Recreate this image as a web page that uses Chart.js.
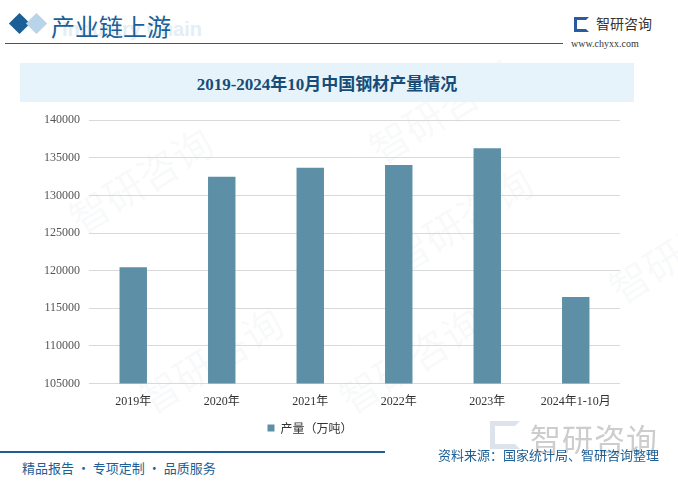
<!DOCTYPE html>
<html>
<head>
<meta charset="utf-8">
<script src="https://cdn.jsdelivr.net/npm/chart.js@4/dist/chart.umd.min.js"></script>
<style>
  body { margin: 0; background: #fff; }
  #page { position: relative; width: 678px; height: 485px; overflow: hidden; background: #fff; font-family: "Noto Sans CJK SC", sans-serif; }
  .abs { position: absolute; white-space: nowrap; }
  .wm { position: absolute; color: rgba(150,170,190,0.07); font-size: 40px; transform: rotate(-32deg); white-space: nowrap; font-family: "Noto Sans CJK SC"; }
  #chartBox { position: absolute; left: 0; top: 104px; width: 640px; height: 340px; }
</style>
</head>
<body>
<div id="page">
  <!-- watermarks -->
  <div class="wm" style="left:60px; top:150px;">智研咨询</div>
  <div class="wm" style="left:360px; top:80px;">智研咨询</div>
  <div class="wm" style="left:380px; top:190px;">智研咨询</div>
  <div class="wm" style="left:130px; top:330px;">智研咨询</div>
  <div class="wm" style="left:330px; top:330px;">智研咨询</div>
  <div class="wm" style="left:600px; top:220px;">智研咨询</div>

  <!-- header -->
  <div class="abs" style="left:12px; top:16px; width:15px; height:15px; background:#1c5f96; transform:rotate(45deg);"></div>
  <div class="abs" style="left:29px; top:16px; width:15px; height:15px; background:#b9d3e8; transform:rotate(45deg);"></div>
  <div class="abs" style="left:62px; top:18px; font:bold 20px 'Liberation Sans'; color:#e3eef7;">Industry Chain</div>
  <div class="abs" style="left:51px; top:8px; font:24px 'Noto Sans CJK SC'; color:#1c5f96;">产业链上游</div>
  <div class="abs" style="left:5px; top:43px; width:558px; height:1px; background:#1c5f96;"></div>
  <div class="abs" style="left:574px; top:17px; width:15px; height:15px; border:3px solid #2a5aa0; box-sizing:border-box; border-right-color:transparent;"></div>
  <div class="abs" style="left:596px; top:13px; font:14px 'Noto Sans CJK SC'; color:#333;">智研咨询</div>
  <div class="abs" style="left:571px; top:38px; font:10px 'Liberation Serif'; color:#333;">www.chyxx.com</div>

  <!-- title box -->
  <div class="abs" style="left:20px; top:63px; width:614px; height:39px; background:#e7f3fb;"></div>
  <div class="abs" style="left:20px; top:70px; width:614px; text-align:center; font:bold 17px 'Liberation Serif','Noto Sans CJK SC'; color:#174c78;">2019-2024年10月中国钢材产量情况</div>

  <div id="chartBox"><canvas id="barChart"></canvas></div>

  <!-- footer -->
  <div class="abs" style="left:490px; top:421px; width:30px; height:28px; border:5px solid #dde3ea; box-sizing:border-box; border-right-color:transparent;"></div>
  <div class="abs" style="left:530px; top:415px; font:31px 'Noto Sans CJK SC'; color:#cdcdcd; letter-spacing:1px;">智研咨询</div>
  <div class="abs" style="left:0; top:451px; width:385px; height:2px; background:#1c5f96;"></div>
  <div class="abs" style="left:438px; top:445px; font:13px 'Noto Sans CJK SC'; color:#1c5f96;">资料来源：国家统计局、智研咨询整理</div>
  <div class="abs" style="left:22px; top:458px; font:13px 'Noto Sans CJK SC'; color:#1c5f96;">精品报告 · 专项定制 · 品质服务</div>
</div>

<script>
var categories = ['2019年', '2020年', '2021年', '2022年', '2023年', '2024年1-10月'];
var output     = [120457, 132489, 133667, 134034, 136268, 116520];
var seriesName = '产量（万吨）';
var yMin = 105000, yMax = 140000, yStep = 5000;

var barChartCanvas = document.getElementById('barChart').getContext('2d');
var barChart = new Chart(barChartCanvas, {
  type: 'bar',
  data: {
    labels: categories,
    datasets: [{
      label: seriesName,
      data: output,
      backgroundColor: '#5d8fa7',
      barPercentage: 0.31,
      categoryPercentage: 1
    }]
  },
  options: {
    responsive: true,
    maintainAspectRatio: false,
    animation: false,
    layout: { padding: { top: 8, right: 20, left: 0, bottom: 0 } },
    plugins: {
      tooltip: { enabled: false },
      legend: {
        position: 'bottom',
        labels: {
          boxWidth: 7,
          boxHeight: 7,
          color: '#333',
          padding: 10,
          font: { size: 12, family: 'Noto Sans CJK SC' }
        }
      }
    },
    scales: {
      x: {
        grid: { display: false },
        border: { display: false },
        ticks: { color: '#333', padding: 3, font: { size: 12, family: 'Liberation Serif, Noto Sans CJK SC' }, maxRotation: 0 }
      },
      y: {
        min: yMin,
        max: yMax,
        afterFit: function (scale) { scale.width = 89; },
        border: { display: false },
        grid: { color: '#d9d9d9', drawTicks: false },
        ticks: {
          stepSize: yStep, color: '#555', padding: 9,
          font: { size: 12, family: 'Liberation Serif' },
          callback: function (value) { return String(value); }
        }
      }
    }
  }
});
</script>
</body>
</html>
